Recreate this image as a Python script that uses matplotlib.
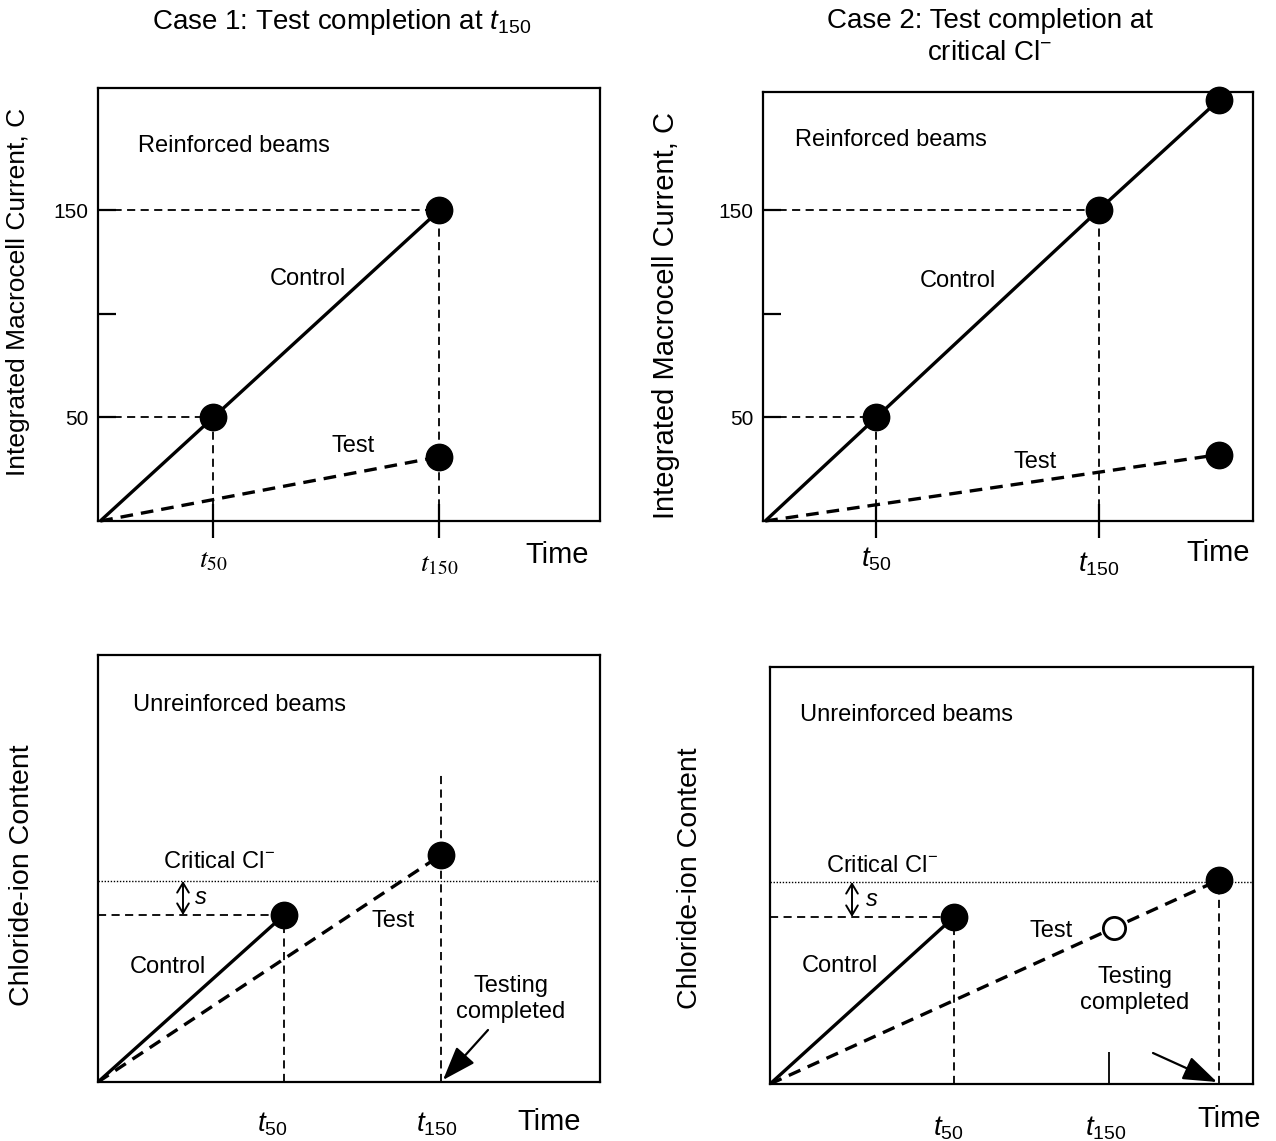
import matplotlib
matplotlib.use("Agg")
import matplotlib.pyplot as plt

plt.rcParams['font.family'] = ['Liberation Sans', 'DejaVu Sans']
plt.rcParams['mathtext.fontset'] = 'custom'
plt.rcParams['mathtext.rm'] = 'Liberation Sans'
plt.rcParams['mathtext.it'] = 'Liberation Sans:italic'

# ---------------- data ----------------
# Top-left (Case 1, reinforced beams): time in units of t50
tl_ctrl_t = [0, 1, 3]
tl_ctrl_c = [0, 50, 150]
tl_test_t = [0, 3]
tl_test_c = [0, 31]

# Top-right (Case 2, reinforced beams)
tr_ctrl_t = [0, 1, 3, 4.08]
tr_ctrl_c = [0, 50, 150, 203]
tr_test_t = [0, 4.08]
tr_test_c = [0, 32]

y_ticks_top = [50, 100, 150]
y_ticklabels_top = ['50', '', '150']

# Bottom-left (Case 1, unreinforced beams): arbitrary units
bl_t50, bl_t150 = 1.86, 3.43
bl_ctrl_t = [0, 1.86]
bl_ctrl_cl = [0, 1.67]
bl_test_t = [0, 3.43]
bl_test_cl = [0, 2.27]
bl_critical = 2.01

# Bottom-right (Case 2, unreinforced beams)
br_t50, br_t150 = 1.84, 3.39
br_ctrl_t = [0, 1.84]
br_ctrl_cl = [0, 1.67]
br_test_t = [0, 4.49]
br_test_cl = [0, 2.04]
br_open_t, br_open_cl = 3.44, 1.56
br_critical = 2.02

# ---------------- styles ----------------
K = 'black'
LW_MAIN = 2.4
LW_REF = 1.3
MS = 19
REF_DASH = (4.5, 3)
TEST_DASH = (3.8, 2.4)
ARROW = '-|>,head_length=0.7,head_width=0.25'

fig = plt.figure(figsize=(12.76, 11.41), dpi=100)

W, H = 1276, 1141
def axes_px(left, top, right, bottom):
    return fig.add_axes([left / W, 1 - bottom / H, (right - left) / W, (bottom - top) / H])

ax_tl = axes_px(98, 88, 600, 521)
ax_tr = axes_px(763, 92, 1253, 521)
ax_bl = axes_px(98, 655, 600, 1082)
ax_br = axes_px(770, 667, 1253, 1084)

for ax in (ax_tl, ax_tr, ax_bl, ax_br):
    for sp in ax.spines.values():
        sp.set_linewidth(1.6)
        sp.set_color(K)

def ref(ax, xs, ys):
    ax.plot(xs, ys, color=K, lw=LW_REF, dashes=REF_DASH, zorder=2, clip_on=False)

TXT = 17
BIG = 21

# ---------- Top panels ----------
def top_panel(ax, ctrl_t, ctrl_c, test_t, test_c, xmax, ymax, serif_labels, ylab_size):
    ax.set_xlim(-0.02, xmax)
    ax.set_ylim(0, ymax)
    ax.plot(ctrl_t, ctrl_c, color=K, lw=LW_MAIN, solid_capstyle='butt', zorder=3, clip_on=False)
    ax.plot(test_t, test_c, color=K, lw=LW_MAIN, dashes=TEST_DASH, zorder=3, clip_on=False)
    ax.plot(ctrl_t[1:], ctrl_c[1:], 'o', color=K, ms=MS, zorder=4, clip_on=False)
    ax.plot(test_t[-1:], test_c[-1:], 'o', color=K, ms=MS, zorder=4, clip_on=False)
    # reference lines
    ref(ax, [0, ctrl_t[1]], [ctrl_c[1], ctrl_c[1]])
    ref(ax, [0, ctrl_t[2]], [ctrl_c[2], ctrl_c[2]])
    ref(ax, [ctrl_t[1], ctrl_t[1]], [0, ctrl_c[1]])
    ref(ax, [ctrl_t[2], ctrl_t[2]], [0, ctrl_c[2]])
    ax.set_yticks(y_ticks_top)
    ax.set_yticklabels(y_ticklabels_top, fontsize=15)
    ax.tick_params(axis='y', direction='in', length=13, width=1.6, pad=7)
    ax.set_xticks([ctrl_t[1], ctrl_t[2]])
    ax.set_xticklabels([])
    ax.tick_params(axis='x', direction='inout', length=24, width=1.6)
    ax.set_ylabel('Integrated Macrocell Current, C', fontsize=ylab_size)
    mf = 'stix' if serif_labels else 'custom'
    tr = ax.get_xaxis_transform()
    ax.text(ctrl_t[1], -0.09, r'$t_{50}$', transform=tr, ha='center', va='center',
            fontsize=20, math_fontfamily=mf)
    ax.text(ctrl_t[2], -0.10, r'$t_{150}$', transform=tr, ha='center', va='center',
            fontsize=20, math_fontfamily=mf)

top_panel(ax_tl, tl_ctrl_t, tl_ctrl_c, tl_test_t, tl_test_c, 4.42, 209, True, 19)
top_panel(ax_tr, tr_ctrl_t, tr_ctrl_c, tr_test_t, tr_test_c, 4.39, 207, False, 21)

ax_tl.yaxis.set_label_coords(-0.135, 0.53)
ax_tr.yaxis.set_label_coords(-0.17, 0.48)

ax_tl.text(0.33, 181, 'Reinforced beams', fontsize=TXT, ha='left', va='center')
ax_tl.text(1.84, 117, 'Control', fontsize=TXT, ha='center', va='center')
ax_tl.text(2.24, 36, 'Test', fontsize=TXT, ha='center', va='center')
ax_tl.text(4.04, -0.079, 'Time', transform=ax_tl.get_xaxis_transform(), fontsize=BIG,
           ha='center', va='center')

ax_tr.text(0.27, 184, 'Reinforced beams', fontsize=TXT, ha='left', va='center')
ax_tr.text(1.73, 116, 'Control', fontsize=TXT, ha='center', va='center')
ax_tr.text(2.43, 28.5, 'Test', fontsize=TXT, ha='center', va='center')
ax_tr.text(4.08, -0.075, 'Time', transform=ax_tr.get_xaxis_transform(), fontsize=BIG,
           ha='center', va='center')

# ---------- Bottom panels ----------
def bottom_common(ax, xmax, ymax, critical):
    ax.set_xlim(0, xmax)
    ax.set_ylim(0, ymax)
    ax.set_xticks([])
    ax.set_yticks([])
    ax.axhline(critical, color=K, lw=1.0, ls=(0, (1, 1.2)), zorder=1)
    ax.set_ylabel('Chloride-ion Content', fontsize=20.5)

# Bottom-left
bottom_common(ax_bl, 5.02, 4.27, bl_critical)
ax_bl.plot(bl_ctrl_t, bl_ctrl_cl, color=K, lw=LW_MAIN, zorder=3)
ax_bl.plot(bl_test_t, bl_test_cl, color=K, lw=LW_MAIN, dashes=TEST_DASH, zorder=3)
ax_bl.plot(bl_ctrl_t[-1:], bl_ctrl_cl[-1:], 'o', color=K, ms=MS, zorder=4)
ax_bl.plot(bl_test_t[-1:], bl_test_cl[-1:], 'o', color=K, ms=MS, zorder=4)
ref(ax_bl, [0, bl_t50], [bl_ctrl_cl[-1], bl_ctrl_cl[-1]])
ref(ax_bl, [bl_t50, bl_t50], [0, bl_ctrl_cl[-1]])
ref(ax_bl, [bl_t150, bl_t150], [0, 3.09])
ax_bl.annotate('', xy=(0.85, bl_critical), xytext=(0.85, bl_ctrl_cl[-1]),
               arrowprops=dict(arrowstyle='<->,head_length=0.5,head_width=0.3', lw=1.4,
                               color=K, mutation_scale=14, shrinkA=0, shrinkB=0))
ax_bl.text(0.35, 3.77, 'Unreinforced beams', fontsize=TXT, ha='left', va='center')
ax_bl.text(0.65, 2.20, 'Critical Cl$^{-}$', fontsize=TXT, ha='left', va='center')
ax_bl.text(1.03, 1.84, r'$s$', fontsize=TXT, ha='center', va='center')
ax_bl.text(2.95, 1.61, 'Test', fontsize=TXT, ha='center', va='center')
ax_bl.text(0.70, 1.15, 'Control', fontsize=TXT, ha='center', va='center')
ax_bl.text(4.13, 0.83, 'Testing\ncompleted', fontsize=TXT, ha='center', va='center',
           linespacing=1.2)
ax_bl.annotate('', xy=(bl_t150 + 0.02, 0.02), xytext=(3.90, 0.52),
               arrowprops=dict(arrowstyle=ARROW, lw=1.6, color=K, mutation_scale=30,
                               shrinkA=0, shrinkB=0))
trb = ax_bl.get_xaxis_transform()
ax_bl.text(1.74, -0.10, r'$t_{50}$', transform=trb, ha='center', va='center', fontsize=20)
ax_bl.text(3.39, -0.10, r'$t_{150}$', transform=trb, ha='center', va='center', fontsize=20)
ax_bl.text(4.51, -0.094, 'Time', transform=trb, ha='center', va='center', fontsize=BIG)
ax_bl.yaxis.set_label_coords(-0.125, 0.485)

# Bottom-right
bottom_common(ax_br, 4.83, 4.17, br_critical)
ax_br.plot(br_ctrl_t, br_ctrl_cl, color=K, lw=LW_MAIN, zorder=3)
ax_br.plot(br_test_t, br_test_cl, color=K, lw=LW_MAIN, dashes=TEST_DASH, zorder=3)
ax_br.plot(br_ctrl_t[-1:], br_ctrl_cl[-1:], 'o', color=K, ms=MS, zorder=4)
ax_br.plot(br_test_t[-1:], br_test_cl[-1:], 'o', color=K, ms=MS, zorder=4)
ax_br.plot([br_open_t], [br_open_cl], 'o', mfc='white', mec=K, mew=2, ms=16, zorder=4)
ref(ax_br, [0, br_t50], [br_ctrl_cl[-1], br_ctrl_cl[-1]])
ref(ax_br, [br_t50, br_t50], [0, br_ctrl_cl[-1]])
ref(ax_br, [br_test_t[-1], br_test_t[-1]], [0, br_test_cl[-1]])
ax_br.set_xticks([br_t150])
ax_br.set_xticklabels([])
ax_br.tick_params(axis='x', direction='in', length=23, width=1.3)
ax_br.annotate('', xy=(0.82, br_critical), xytext=(0.82, br_ctrl_cl[-1]),
               arrowprops=dict(arrowstyle='<->,head_length=0.5,head_width=0.3', lw=1.4,
                               color=K, mutation_scale=14, shrinkA=0, shrinkB=0))
ax_br.text(0.30, 3.69, 'Unreinforced beams', fontsize=TXT, ha='left', va='center')
ax_br.text(0.56, 2.18, 'Critical Cl$^{-}$', fontsize=TXT, ha='left', va='center')
ax_br.text(1.02, 1.84, r'$s$', fontsize=TXT, ha='center', va='center')
ax_br.text(2.81, 1.53, 'Test', fontsize=TXT, ha='center', va='center')
ax_br.text(0.70, 1.18, 'Control', fontsize=TXT, ha='center', va='center')
ax_br.text(3.65, 0.94, 'Testing\ncompleted', fontsize=TXT, ha='center', va='center',
           linespacing=1.2)
ax_br.annotate('', xy=(br_test_t[-1] - 0.02, 0.02), xytext=(3.83, 0.31),
               arrowprops=dict(arrowstyle=ARROW, lw=1.6, color=K, mutation_scale=30,
                               shrinkA=0, shrinkB=0))
trr = ax_br.get_xaxis_transform()
ax_br.text(1.78, -0.105, r'$t_{50}$', transform=trr, ha='center', va='center', fontsize=20)
ax_br.text(3.36, -0.105, r'$t_{150}$', transform=trr, ha='center', va='center', fontsize=20)
ax_br.text(4.59, -0.084, 'Time', transform=trr, ha='center', va='center', fontsize=BIG)
ax_br.yaxis.set_label_coords(-0.139, 0.494)

# Titles
fig.text(342 / W, 1 - 22 / H, 'Case 1: Test completion at $t_{150}$', fontsize=20,
         ha='center', va='center')
fig.text(990 / W, 1 - 37 / H, 'Case 2: Test completion at\ncritical Cl$^{-}$', fontsize=20,
         ha='center', va='center', linespacing=1.3)

fig.savefig('out.png', dpi=100, facecolor='white')
